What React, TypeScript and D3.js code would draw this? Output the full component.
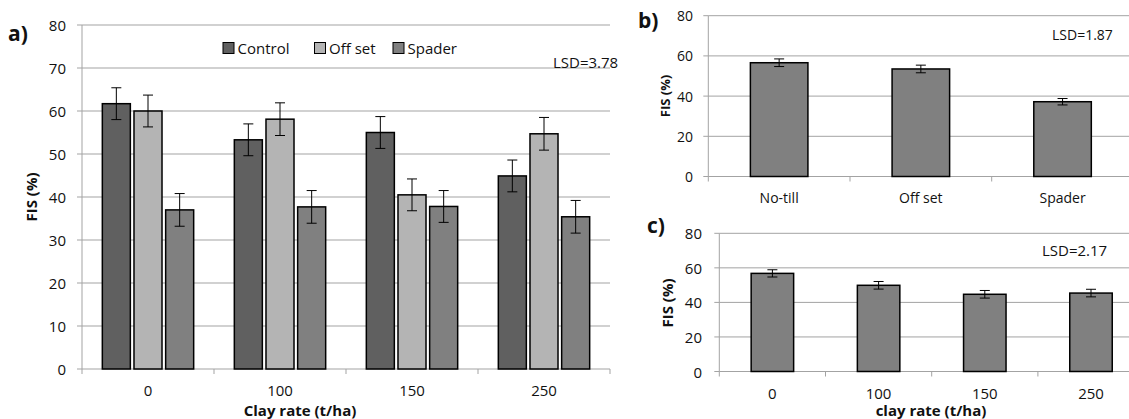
import React from "react";
import * as d3 from "d3";

// ---------- Data ----------
const clayRates = ["0", "100", "150", "250"];
const treatments = ["Control", "Off set", "Spader"];
const controlValues = [61.7, 53.3, 55.0, 44.9];
const offsetValues = [60.0, 58.1, 40.5, 54.7];
const spaderValues = [37.0, 37.7, 37.8, 35.4];
const controlErr = [3.7, 3.7, 3.7, 3.7];
const offsetErr = [3.7, 3.8, 3.7, 3.8];
const spaderErr = [3.8, 3.8, 3.7, 3.8];

const tillageCats = ["No-till", "Off set", "Spader"];
const tillageValues = [56.6, 53.5, 37.2];
const tillageErr = [1.9, 1.9, 1.6];

const clayCats = ["0", "100", "150", "250"];
const clayValues = [56.8, 49.9, 44.7, 45.4];
const clayErr = [2.1, 2.2, 2.2, 2.2];

const ticksA = [0, 10, 20, 30, 40, 50, 60, 70, 80];
const ticksBC = [0, 20, 40, 60, 80];

const seriesColors = ["#606060", "#b4b4b4", "#808080"];
const singleColor = "#808080";
const gridColor = "#a3a3a3";
const textColor = "#111";
const FONT = "'Open Sans', 'DejaVu Sans', sans-serif";

function ErrorBar({ x, y0, y1, cap }: { x: number; y0: number; y1: number; cap: number }) {
  return (
    <g stroke="#000" strokeWidth={1}>
      <line x1={x} x2={x} y1={y0} y2={y1} />
      <line x1={x - cap / 2} x2={x + cap / 2} y1={y0} y2={y0} />
      <line x1={x - cap / 2} x2={x + cap / 2} y1={y1} y2={y1} />
    </g>
  );
}

function Frame({
  x0, x1, y, ticks, cats, tickFont, labelX,
}: {
  x0: number; x1: number; y: d3.ScaleLinear<number, number>; ticks: number[]; cats: string[]; tickFont: number; labelX: number;
}) {
  const n = cats.length;
  const step = (x1 - x0) / n;
  const yb = y(0);
  return (
    <g>
      {ticks.map((t) => (
        <g key={t}>
          {t > 0 && <line x1={x0} x2={x1} y1={y(t)} y2={y(t)} stroke={gridColor} strokeWidth={1} />}
          <line x1={x0 - 5} x2={x0} y1={y(t)} y2={y(t)} stroke={gridColor} strokeWidth={1} />
          <text x={labelX} y={y(t)} textAnchor="end" dominantBaseline="central" fontSize={tickFont} fill={textColor}>
            {t}
          </text>
        </g>
      ))}
      <line x1={x0} x2={x0} y1={y(ticks[ticks.length - 1])} y2={yb} stroke={gridColor} strokeWidth={1} />
      <line x1={x0} x2={x1} y1={yb} y2={yb} stroke={gridColor} strokeWidth={1} />
      {d3.range(n + 1).map((i) => (
        <line key={i} x1={x0 + i * step} x2={x0 + i * step} y1={yb} y2={yb + 5} stroke={gridColor} strokeWidth={1} />
      ))}
    </g>
  );
}

export default function App() {
  // ---------- Panel a ----------
  const aX0 = 82, aX1 = 610;
  const yA = d3.scaleLinear().domain([0, 80]).range([369, 25]);
  const xA = d3.scaleBand<string>().domain(clayRates).range([aX0, aX1]).paddingInner(0.308).paddingOuter(0.154);
  const xAin = d3.scaleBand<string>().domain(treatments).range([0, xA.bandwidth()]).paddingInner(0.115);
  const seriesVals = [controlValues, offsetValues, spaderValues];
  const seriesErr = [controlErr, offsetErr, spaderErr];

  // ---------- Panel b ----------
  const bX0 = 708.3, bX1 = 1133.4;
  const yB = d3.scaleLinear().domain([0, 80]).range([176.5, 15.7]);
  const xB = d3.scaleBand<string>().domain(tillageCats).range([bX0, bX1]).paddingInner(0.594).paddingOuter(0.297);

  // ---------- Panel c ----------
  const cX0 = 719.3, cX1 = 1144.1;
  const yC = d3.scaleLinear().domain([0, 80]).range([371.5, 233.3]);
  const xC = d3.scaleBand<string>().domain(clayCats).range([cX0, cX1]).paddingInner(0.6).paddingOuter(0.3);

  const cat = (x: d3.ScaleBand<string>, c: string) => (x(c) as number) + x.bandwidth() / 2;

  return (
    <svg width={1129} height={419} style={{ position: "absolute", left: 0, top: 0, background: "#fff" }} fontFamily={FONT}>
      <rect width={1129} height={419} fill="#fff" />
      {/* Panel a */}
      <Frame x0={aX0} x1={aX1} y={yA} ticks={ticksA} cats={clayRates} tickFont={15} labelX={66} />
      {clayRates.map((c, ci) => (
        <g key={c}>
          {treatments.map((t, si) => {
            const v = seriesVals[si][ci];
            const e = seriesErr[si][ci];
            const bx = (xA(c) as number) + (xAin(t) as number);
            return (
              <g key={t}>
                <rect x={bx} y={yA(v)} width={xAin.bandwidth()} height={yA(0) - yA(v)} fill={seriesColors[si]} stroke="#000" strokeWidth={1.5} />
                <ErrorBar x={bx + xAin.bandwidth() / 2} y0={yA(v + e)} y1={yA(v - e)} cap={10} />
              </g>
            );
          })}
          <text x={cat(xA, c)} y={390} textAnchor="middle" dominantBaseline="central" fontSize={15} fill={textColor}>{c}</text>
        </g>
      ))}
      <text x={300} y={409.5} textAnchor="middle" dominantBaseline="central" fontSize={15} fontWeight="bold" fill={textColor}>Clay rate (t/ha)</text>
      <text transform="translate(31,197) rotate(-90)" textAnchor="middle" dominantBaseline="central" fontSize={15} fontWeight="bold" fill={textColor}>FIS (%)</text>
      <text x={8} y={33} dominantBaseline="central" fontSize={21} fontWeight="bold" fill={textColor}>a)</text>
      {/* legend */}
      {treatments.map((t, i) => {
        const lx = [223, 314.5, 393][i];
        return (
          <g key={t}>
            <rect x={lx} y={42.5} width={11} height={11} fill={seriesColors[i]} stroke="#000" strokeWidth={1} />
            <text x={lx + 14.5} y={47.5} dominantBaseline="central" fontSize={15} fill={textColor}>{t}</text>
          </g>
        );
      })}
      <text x={553} y={62} dominantBaseline="central" fontSize={15} fill={textColor}>LSD=3.78</text>

      {/* Panel b */}
      <Frame x0={bX0} x1={bX1} y={yB} ticks={ticksBC} cats={tillageCats} tickFont={14} labelX={693} />
      {tillageCats.map((c, i) => {
        const v = tillageValues[i];
        const e = tillageErr[i];
        return (
          <g key={c}>
            <rect x={xB(c)} y={yB(v)} width={xB.bandwidth()} height={yB(0) - yB(v)} fill={singleColor} stroke="#000" strokeWidth={1.5} />
            <ErrorBar x={cat(xB, c)} y0={yB(v + e)} y1={yB(v - e)} cap={10} />
            <text x={cat(xB, c)} y={197} textAnchor="middle" dominantBaseline="central" fontSize={14} fill={textColor}>{c}</text>
          </g>
        );
      })}
      <text transform="translate(665,96) rotate(-90)" textAnchor="middle" dominantBaseline="central" fontSize={13} fontWeight="bold" fill={textColor}>FIS (%)</text>
      <text x={638} y={20} dominantBaseline="central" fontSize={21} fontWeight="bold" fill={textColor}>b)</text>
      <text x={1052} y={34} dominantBaseline="central" fontSize={14} fill={textColor}>LSD=1.87</text>

      {/* Panel c */}
      <Frame x0={cX0} x1={cX1} y={yC} ticks={ticksBC} cats={clayCats} tickFont={15} labelX={702} />
      {clayCats.map((c, i) => {
        const v = clayValues[i];
        const e = clayErr[i];
        return (
          <g key={c}>
            <rect x={xC(c)} y={yC(v)} width={xC.bandwidth()} height={yC(0) - yC(v)} fill={singleColor} stroke="#000" strokeWidth={1.5} />
            <ErrorBar x={cat(xC, c)} y0={yC(v + e)} y1={yC(v - e)} cap={10} />
            <text x={cat(xC, c)} y={393} textAnchor="middle" dominantBaseline="central" fontSize={15} fill={textColor}>{c}</text>
          </g>
        );
      })}
      <text x={931} y={410} textAnchor="middle" dominantBaseline="central" fontSize={15} fontWeight="bold" fill={textColor}>clay rate (t/ha)</text>
      <text transform="translate(667,303) rotate(-90)" textAnchor="middle" dominantBaseline="central" fontSize={15} fontWeight="bold" fill={textColor}>FIS (%)</text>
      <text x={647} y={225} dominantBaseline="central" fontSize={21} fontWeight="bold" fill={textColor}>c)</text>
      <text x={1042} y={250} dominantBaseline="central" fontSize={15} fill={textColor}>LSD=2.17</text>
    </svg>
  );
}
